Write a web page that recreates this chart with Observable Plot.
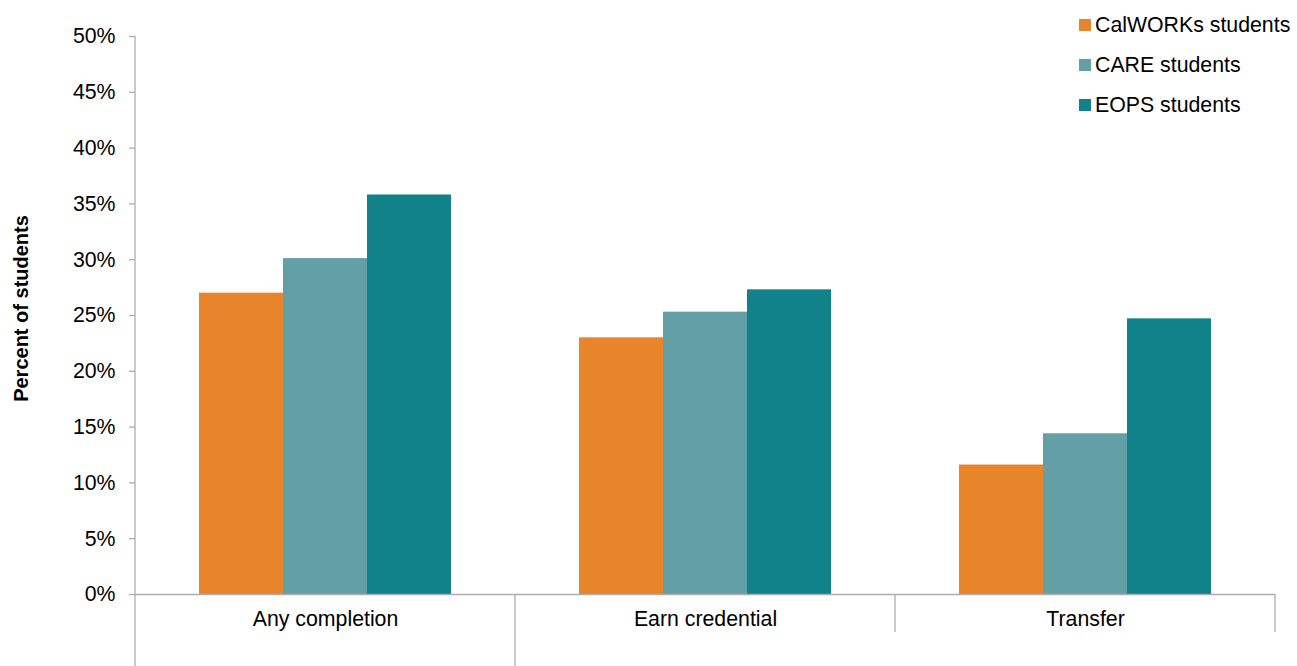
<!DOCTYPE html>
<html>
<head>
<meta charset="utf-8">
<script src="https://cdn.jsdelivr.net/npm/d3@7"></script>
<script src="https://cdn.jsdelivr.net/npm/@observablehq/plot@0.6"></script>
<style>
  html, body { margin: 0; padding: 0; background: #fff; }
  #chart { position: relative; width: 1297px; height: 666px; font-family: "Liberation Sans", Arial, sans-serif; }
  #legend { position: absolute; left: 1079px; top: 5px; color: #000; font-size: 21.3px; }
  #legend .row { display: flex; align-items: center; height: 40px; }
  #legend .swatch { width: 12px; height: 12px; margin-right: 4px; }
</style>
</head>
<body>
<div id="chart"><div id="legend"></div></div>
<script>
// Outcome categories along the horizontal axis
const outcomes = ["Any completion", "Earn credential", "Transfer"];
// Student groups (one bar each per outcome)
const groups = ["CalWORKs students", "CARE students", "EOPS students"];
const groupColors = ["#E88429", "#63A0A6", "#11828A"];
// Percent of students reaching each outcome, per group
const calworks = [27.0, 23.0, 11.6];
const care = [30.1, 25.3, 14.4];
const eops = [35.8, 27.3, 24.7];
// Y axis ticks (percent)
const yTicks = [0, 5, 10, 15, 20, 25, 30, 35, 40, 45, 50];

const series = [calworks, care, eops];
const rows = outcomes.flatMap((outcome, i) =>
  groups.map((group, g) => ({outcome, group, value: series[g][i]}))
);

const axisGray = "#ADADAD";
const labelSize = "21.3px";

// Category dividers below the baseline, drawn once across all facets;
// the first category sits in a taller outer bracket.
const dividers = Plot.frame({
  facet: "super",
  render(index, scales, values, dimensions, context) {
    const {fx, y} = scales;
    const bottom = dimensions.height;
    const y0 = y(0);
    const edges = outcomes.map((o) => fx(o)).concat([fx(outcomes[outcomes.length - 1]) + fx.bandwidth()]);
    const g = d3.create("svg:g").attr("stroke", axisGray).attr("stroke-width", 1.3);
    edges.forEach((xe, i) => {
      const outer = i <= 1;
      g.append("line")
        .attr("x1", xe).attr("x2", xe)
        .attr("y1", i === 0 ? y(50) : y0)
        .attr("y2", outer ? bottom : y0 + 38);
    });
    return g.node();
  }
});

const chart = Plot.plot({
  width: 1297,
  height: 666,
  marginLeft: 134,
  marginRight: 21,
  marginTop: 36,
  marginBottom: 72,
  style: {fontFamily: "'Liberation Sans', Arial, sans-serif", fontSize: labelSize, color: "#000", background: "#fff"},
  fx: {domain: outcomes, padding: 0, label: null},
  x: {domain: groups, paddingInner: 0, paddingOuter: 0.76, axis: null},
  y: {domain: [0, 50], axis: null},
  color: {domain: groups, range: groupColors},
  marks: [
    Plot.barY(rows, {fx: "outcome", x: "group", y: "value", fill: "group"}),
    Plot.ruleY([0], {stroke: axisGray, strokeWidth: 1.3}),
    Plot.axisY({
      ticks: yTicks,
      tickFormat: (d) => d + "%",
      tickSize: 6,
      tickPadding: 14,
      stroke: axisGray,
      strokeWidth: 1.3,
      fontSize: labelSize,
      label: "Percent of students",
      labelArrow: false,
      labelAnchor: "center",
      labelOffset: 122
    }),
    Plot.axisFx({anchor: "bottom", tickSize: 0, tickPadding: 16, label: null, fontSize: labelSize}),
    dividers
  ]
});

// Bold axis title, centred slightly above the frame middle
d3.select(chart).selectAll("text").filter(function () {
  return this.textContent.startsWith("Percent of students");
}).text("Percent of students")
  .attr("font-weight", "bold")
  .attr("font-size", "20px")
  .attr("dx", 7);

document.getElementById("chart").prepend(chart);

// Legend, stacked vertically in the top-right corner
const legend = d3.select("#legend");
groups.forEach((group, i) => {
  const row = legend.append("div").attr("class", "row");
  row.append("div").attr("class", "swatch").style("background", groupColors[i]);
  row.append("span").text(group);
});
</script>
</body>
</html>
